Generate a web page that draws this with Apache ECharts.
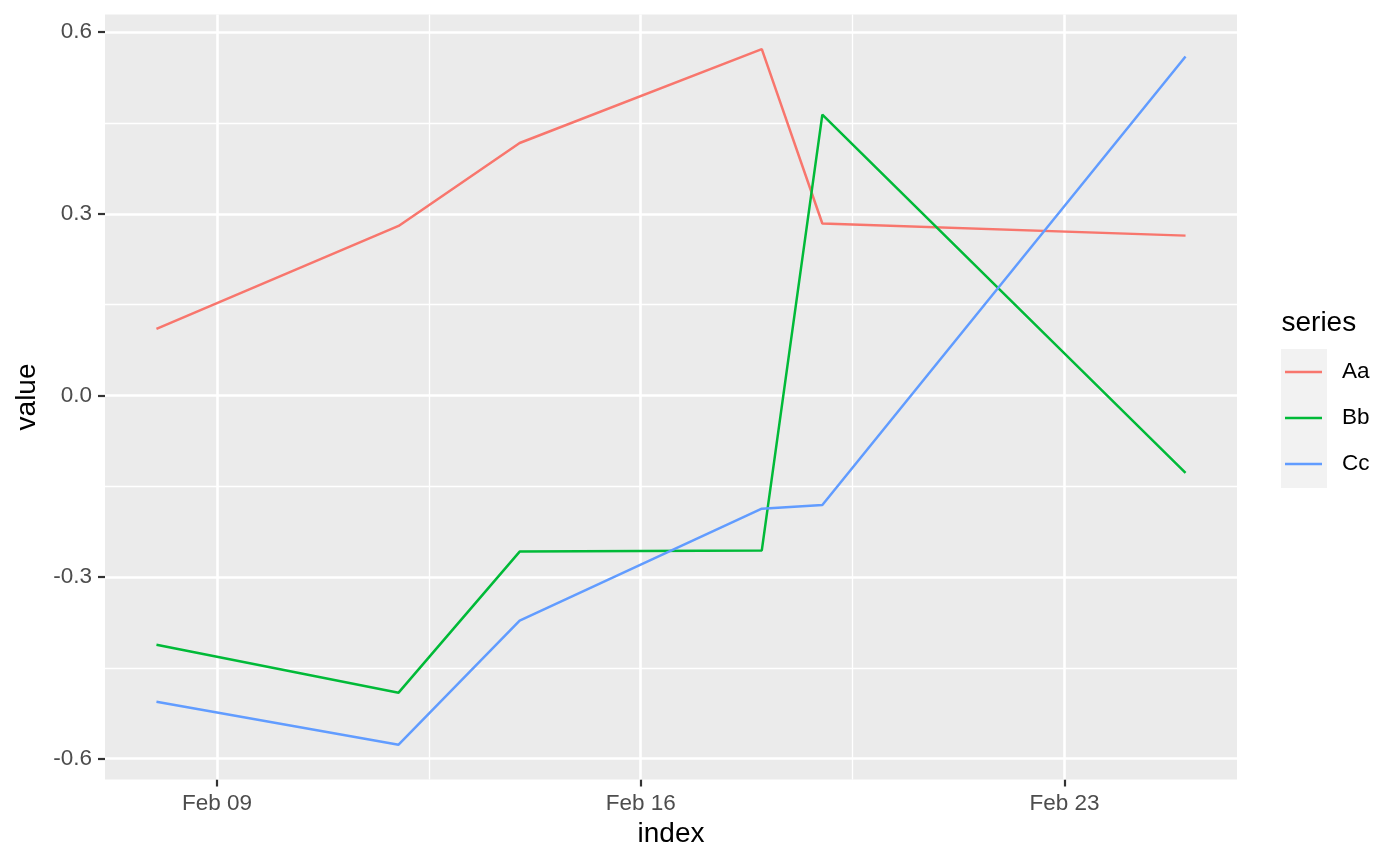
<!DOCTYPE html>
<html>
<head>
<meta charset="utf-8">
<script src="https://cdn.jsdelivr.net/npm/echarts@6/dist/echarts.min.js"></script>
<style>
html,body{margin:0;padding:0;background:#fff;}
#chart{width:1400px;height:866px;}
</style>
</head>
<body>
<div id="chart"></div>
<script>
// ---- data ----
const dates = ['2023-02-08', '2023-02-12', '2023-02-14', '2023-02-18', '2023-02-19', '2023-02-25'];
const seriesNames = ['Aa', 'Bb', 'Cc'];
const valuesAa = [0.110, 0.280, 0.417, 0.572, 0.284, 0.264];
const valuesBb = [-0.412, -0.491, -0.258, -0.256, 0.464, -0.128];
const valuesCc = [-0.506, -0.577, -0.372, -0.187, -0.181, 0.560];
const xBreaks = ['2023-02-09', '2023-02-16', '2023-02-23'];
const xMinorBreaks = ['2023-02-12T12:00:00Z', '2023-02-19T12:00:00Z'];
const yBreaks = [-0.6, -0.3, 0.0, 0.3, 0.6];
const yMinorBreaks = [-0.45, -0.15, 0.15, 0.45];
const colors = ['#F8766D', '#00BA38', '#619CFF'];

// ---- derived ----
const FONT = '"Liberation Sans", Arial, Helvetica, sans-serif';
const ts = dates.map(d => Date.parse(d));
const xBreakTs = xBreaks.map(d => Date.parse(d));
const xMinorTs = xMinorBreaks.map(d => Date.parse(d));
const allVals = valuesAa.concat(valuesBb, valuesCc);
const yLo = Math.min.apply(null, allVals), yHi = Math.max.apply(null, allVals);
const yPad = (yHi - yLo) * 0.05;
const xLo = Math.min.apply(null, ts), xHi = Math.max.apply(null, ts);
const xPad = (xHi - xLo) * 0.05;
const months = ['Jan','Feb','Mar','Apr','May','Jun','Jul','Aug','Sep','Oct','Nov','Dec'];
function fmtDate(v) {
  const d = new Date(v);
  const dd = d.getUTCDate();
  return months[d.getUTCMonth()] + ' ' + (dd < 10 ? '0' + dd : '' + dd);
}
const vals = [valuesAa, valuesBb, valuesCc];

const gridLines = [];
xBreakTs.forEach(v => gridLines.push({xAxis: v, lineStyle: {width: 2.6}}));
xMinorTs.forEach(v => gridLines.push({xAxis: v, lineStyle: {width: 1.3}}));
yBreaks.forEach(v => gridLines.push({yAxis: v, lineStyle: {width: 2.6}}));
yMinorBreaks.forEach(v => gridLines.push({yAxis: v, lineStyle: {width: 1.3}}));

const series = [{
  name: 'grid',
  type: 'line',
  data: [],
  z: 1,
  silent: true,
  markLine: {
    silent: true,
    z: 1,
    animation: false,
    symbol: ['none', 'none'],
    label: {show: false},
    emphasis: {disabled: true},
    lineStyle: {color: '#FFFFFF', type: 'solid'},
    data: gridLines
  }
}];
seriesNames.forEach((n, i) => {
  series.push({
    name: n,
    type: 'line',
    z: 10,
    symbol: 'none',
    color: colors[i],
    itemStyle: {color: colors[i]},
    lineStyle: {color: colors[i], width: 2.5},
    data: ts.map((t, j) => [t, vals[i][j]])
  });
});

const chart = echarts.init(document.getElementById('chart'));
chart.setOption({
  animation: false,
  backgroundColor: '#FFFFFF',
  grid: {
    left: 105, right: 163, top: 14.4, bottom: 86.5,
    show: true, backgroundColor: '#EBEBEB', borderWidth: 0, z: 0
  },
  xAxis: {
    type: 'value',
    min: xLo - xPad, max: xHi + xPad,
    axisLine: {show: false, onZero: false},
    axisTick: {show: true, length: 7, lineStyle: {color: '#333333', width: 2.2}, customValues: xBreakTs},
    axisLabel: {customValues: xBreakTs, formatter: fmtDate, color: '#4D4D4D', fontSize: 22.5, fontFamily: FONT, margin: 13},
    splitLine: {show: false},
    name: 'index', nameLocation: 'middle', nameGap: 40,
    nameTextStyle: {fontSize: 28, color: '#000000', fontFamily: FONT}
  },
  yAxis: {
    type: 'value',
    min: yLo - yPad, max: yHi + yPad,
    axisLine: {show: false, onZero: false},
    axisTick: {show: true, length: 7, lineStyle: {color: '#333333', width: 2.2}, customValues: yBreaks},
    axisLabel: {customValues: yBreaks, formatter: v => v.toFixed(1), color: '#4D4D4D', fontSize: 22.5, fontFamily: FONT, margin: 13},
    splitLine: {show: false},
    name: 'value', nameLocation: 'middle', nameGap: 64,
    nameTextStyle: {fontSize: 28, color: '#000000', fontFamily: FONT}
  },
  legend: {
    data: seriesNames,
    orient: 'vertical',
    left: 1285, top: 349,
    padding: 0,
    icon: 'rect',
    itemWidth: 37, itemHeight: 2.6, itemGap: 0,
    selectedMode: false,
    textStyle: {fontSize: 22.5, lineHeight: 46, color: '#000000', fontFamily: FONT, padding: [0, 0, 0, 15]}
  },
  graphic: [
    {type: 'rect', shape: {x: 1281, y: 349, width: 46, height: 139}, style: {fill: '#F2F2F2'}, z: -1, silent: true},
    {type: 'text', x: 1281.5, y: 323.5, style: {text: 'series', font: '28px ' + FONT, fill: '#000000', verticalAlign: 'middle', align: 'left'}, silent: true}
  ],
  series: series
});
</script>
</body>
</html>
